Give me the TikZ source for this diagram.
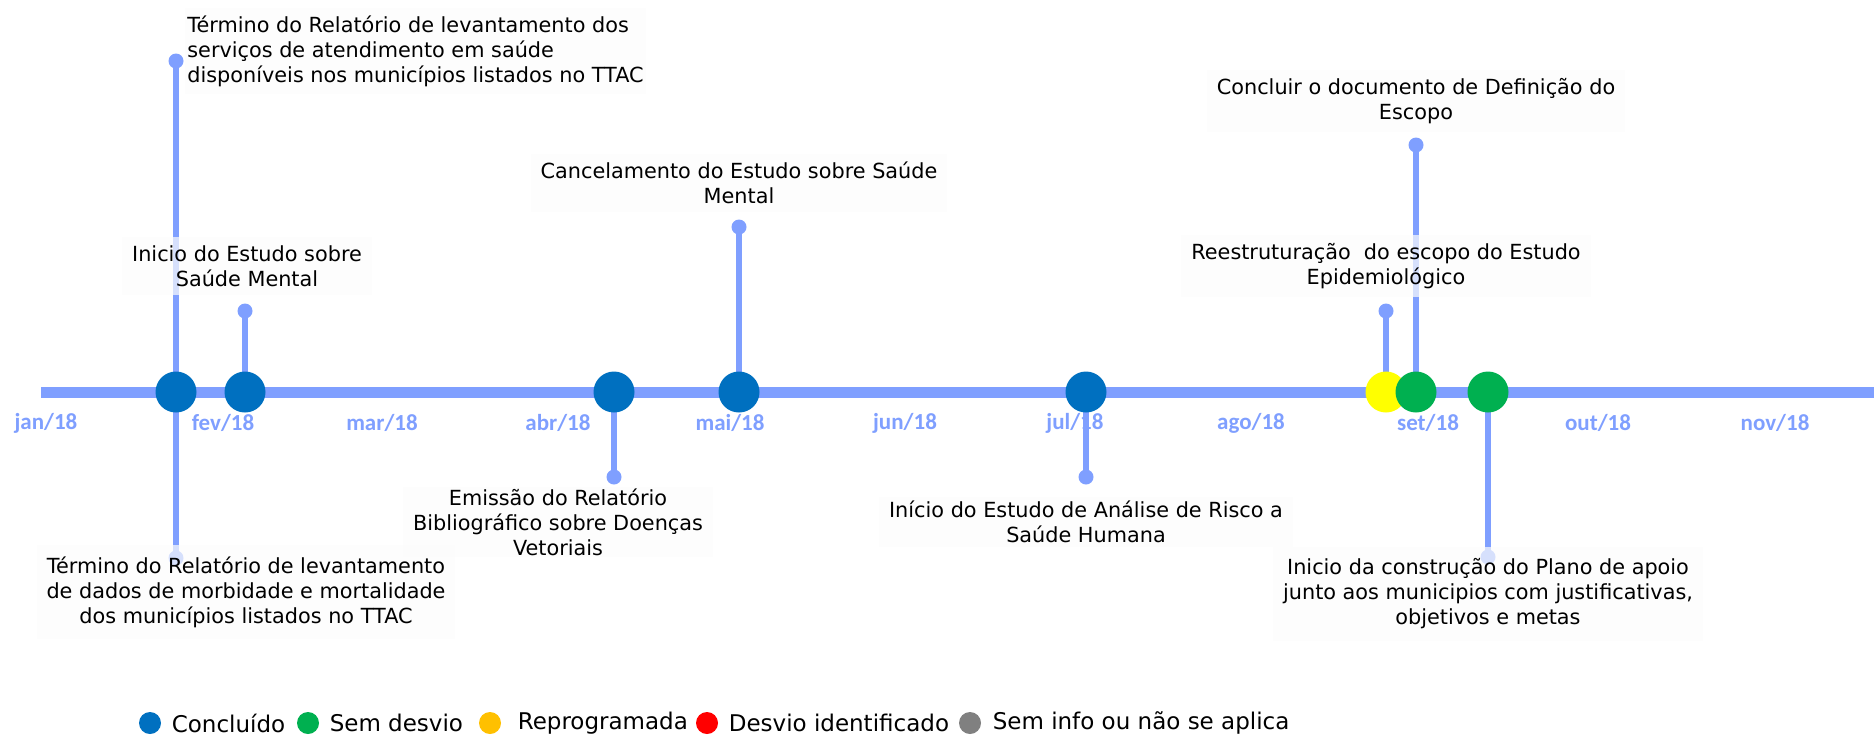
\documentclass[tikz,border=0pt]{standalone}
\usepackage{fontspec}
\setmainfont{DejaVu Sans}
\newfontfamily\monthfont{Carlito}
\usepackage{xcolor}
\usetikzlibrary{positioning}
\definecolor{lineblue}{RGB}{127,159,255}
\definecolor{doneblue}{RGB}{0,112,192}
\definecolor{okgreen}{RGB}{0,176,80}
\definecolor{movedyellow}{RGB}{255,255,0}
\definecolor{legyellow}{RGB}{255,192,0}
\definecolor{devred}{RGB}{255,0,0}
\definecolor{nagray}{RGB}{128,128,128}
\pgfdeclarelayer{back}
\pgfsetlayers{back,main}

\begin{document}
\begin{tikzpicture}[
        % one unit is one pixel of the chart
        x=0.5pt, y=-0.5pt,
        % Timeline and the stems of the milestones
        axisline/.style={line width=5.5pt, draw=lineblue},
        stemline/.style={line width=2.6pt, draw=lineblue},
        pindot/.style={circle, fill=lineblue, inner sep=0pt, minimum size=7.5pt},
        % Milestones by status
        milestone/.style={circle, inner sep=0pt, minimum size=20.5pt},
        done/.style={milestone, fill=doneblue},
        ontrack/.style={milestone, fill=okgreen},
        moved/.style={milestone, fill=movedyellow},
        % Texts
        notebox/.style={fill=black!1, fill opacity=0.7, text opacity=1, align=center, inner xsep=5pt, inner ysep=4pt, font=\fontsize{10.4}{12.5}\selectfont},
        monthlabel/.style={text=lineblue, font=\monthfont\bfseries\fontsize{11.5}{13}\selectfont},
        legdot/.style={circle, inner sep=0pt, minimum size=11pt},
        legtext/.style={inner sep=0pt, font=\fontsize{11.5}{14}\selectfont}
    ]
    \useasboundingbox (0,0) rectangle (1874,736);

    % --- MILESTONES ---
    \node (m1) [done] at (176,392) {};
    \node (m2) [done] at (245,392) {};
    \node (m3) [done] at (614,392) {};
    \node (m4) [done] at (739,392) {};
    \node (m5) [done] at (1086,392) {};
    \node (m6) [moved] at (1386,392) {};
    \node (m7) [ontrack] at (1416,392) {};
    \node (m8) [ontrack] at (1488,392) {};

    % --- TIMELINE AND STEMS ---
    \begin{pgfonlayer}{back}
        \coordinate (tstart) at (41,392);
        \coordinate (tend) at (1874,392);
        \draw[axisline] (tstart) -- (tend);

        \node (p1a) [pindot] at (176,61) {};
        \node (p1b) [pindot] at (176,558) {};
        \node (p2) [pindot] at (245,311) {};
        \node (p3) [pindot] at (614,477) {};
        \node (p4) [pindot] at (739,227) {};
        \node (p5) [pindot] at (1086,477) {};
        \node (p6) [pindot] at (1386,311) {};
        \node (p7) [pindot] at (1416,145) {};
        \node (p8) [pindot] at (1488,557) {};

        \draw[stemline] (m1.center) -- (p1a.center);
        \draw[stemline] (m1.center) -- (p1b.center);
        \draw[stemline] (m2.center) -- (p2.center);
        \draw[stemline] (m3.center) -- (p3.center);
        \draw[stemline] (m4.center) -- (p4.center);
        \draw[stemline] (m5.center) -- (p5.center);
        \draw[stemline] (m6.center) -- (p6.center);
        \draw[stemline] (m7.center) -- (p7.center);
        \draw[stemline] (m8.center) -- (p8.center);
    \end{pgfonlayer}

    % --- MONTHS ---
    \foreach \mname/\mx in {jan/46, fev/223, mar/382, abr/558, mai/730, jun/905, jul/1075, ago/1251, set/1428, out/1598, nov/1775}
        \node (\mname) [monthlabel] at (\mx,423) {\mname/18};

    % --- NOTES ABOVE ---
    \node (n1a) [notebox, align=left, inner xsep=1pt, anchor=west] at (185,51) {Término do Relatório de levantamento dos\\
    serviços de atendimento em saúde\\
    disponíveis nos municípios listados no TTAC};
    \node (n2) [notebox] at (247,266) {Inicio do Estudo sobre\\ Saúde Mental};
    \node (n4) [notebox] at (739,183) {Cancelamento do Estudo sobre Saúde\\ Mental};
    \node (n6) [notebox] at (1386,266) {Reestruturação~ do escopo do Estudo\\ Epidemiológico};
    \node (n7) [notebox] at (1416,101) {Concluir o documento de Definição do\\ Escopo};

    % --- NOTES BELOW ---
    \node (n1b) [notebox, inner ysep=6pt] at (246,592) {Término do Relatório de levantamento\\
    de dados de morbidade e mortalidade\\
    dos municípios listados no TTAC};
    \node (n3) [notebox, inner ysep=1pt] at (558,522) {Emissão do Relatório\\
    Bibliográfico sobre Doenças\\ Vetoriais};
    \node (n5) [notebox, inner ysep=2pt] at (1086,522) {Início do Estudo de Análise de Risco a\\ Saúde Humana};
    \node (n8) [notebox, inner ysep=6pt] at (1488,594) {Inicio da construção do Plano de apoio\\
    junto aos municipios com justificativas,\\ objetivos e metas};

    % --- LEGEND ---
    \node (kdone) [legdot, fill=doneblue] at (150,723) {};
    \node (tdone) [legtext, right=5pt of kdone] {Concluído};
    \node (kok) [legdot, fill=okgreen] at (308,723) {};
    \node (tok) [legtext, right=5pt of kok] {Sem desvio};
    \node (kmoved) [legdot, fill=legyellow] at (490,723) {};
    \node (tmoved) [legtext, right=8pt of kmoved] {Reprogramada};
    \node (kdev) [legdot, fill=devred] at (707,723) {};
    \node (tdev) [legtext, right=5pt of kdev] {Desvio identificado};
    \node (kna) [legdot, fill=nagray] at (970,723) {};
    \node (tna) [legtext, right=5.5pt of kna] {Sem info ou não se aplica};

\end{tikzpicture}
\end{document}
